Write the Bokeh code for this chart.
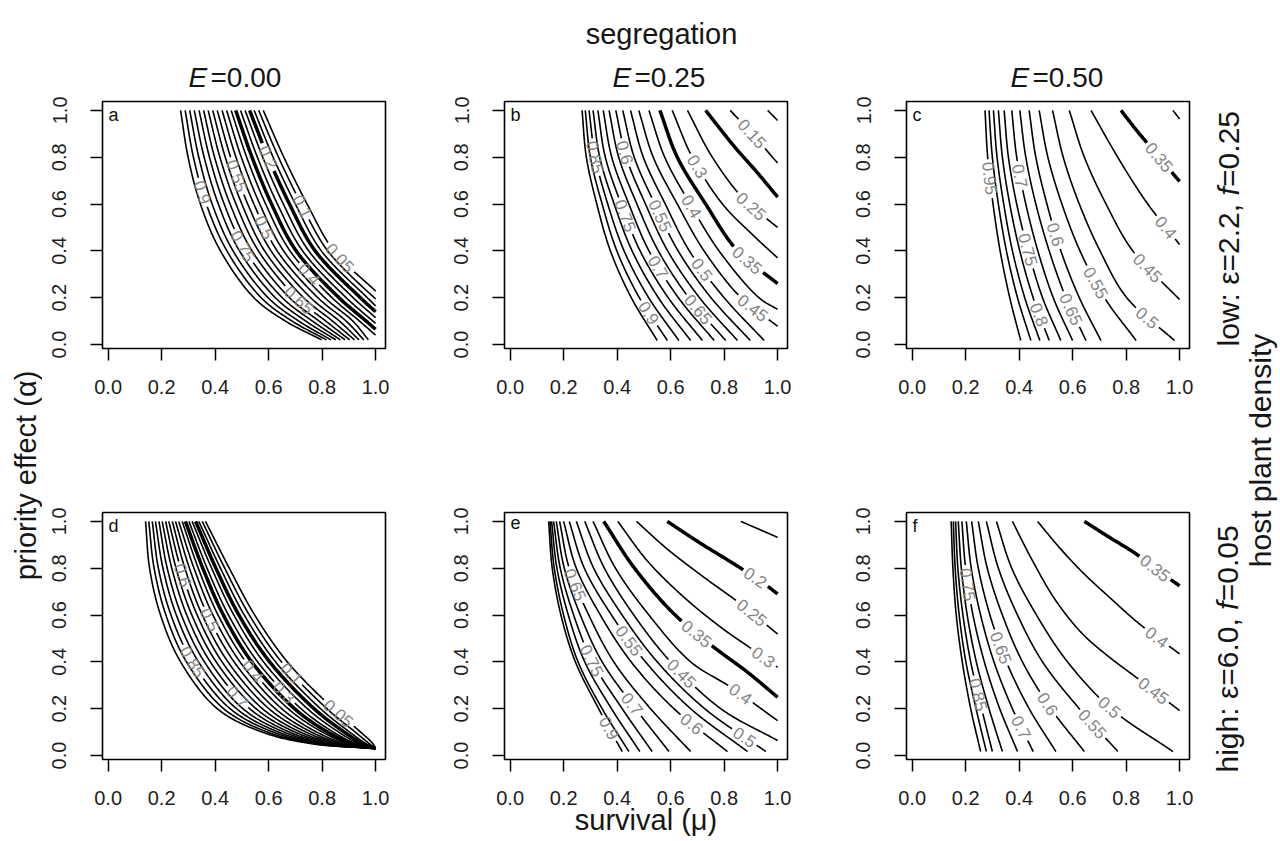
import math
from bokeh.plotting import figure
from bokeh.models import Range1d, FixedTicker, Label, PrintfTickFormatter
from bokeh.layouts import row, column
from bokeh.embed import file_html
from bokeh.resources import INLINE
from bokeh.core.properties import value

FONT = "Liberation Sans"

G6 = [1.0, 0.8, 0.6, 0.4, 0.2, 0.017]
G7 = [1.0, 0.8, 0.6, 0.4, 0.2, 0.1, 0.02]
G8 = [1.0, 0.8, 0.6, 0.4, 0.2, 0.1, 0.05, 0.03]

# ---------------- panel a  (E=0.00, low density) ----------------
A_LEVELS = [0.95, 0.90, 0.85, 0.80, 0.75, 0.70, 0.65, 0.60, 0.55, 0.50,
            0.45, 0.40, 0.35, 0.30, 0.25, 0.20, 0.15, 0.10, 0.05]
A_MU = [
    [0.271, 0.299, 0.345, 0.420, 0.545, 0.663, 0.798],
    [0.288, 0.319, 0.367, 0.444, 0.572, 0.688, 0.816],
    [0.305, 0.339, 0.389, 0.467, 0.598, 0.713, 0.833],
    [0.322, 0.359, 0.412, 0.491, 0.625, 0.739, 0.851],
    [0.340, 0.379, 0.434, 0.514, 0.651, 0.764, 0.868],
    [0.357, 0.398, 0.456, 0.538, 0.678, 0.789, 0.886],
    [0.374, 0.418, 0.478, 0.562, 0.704, 0.814, 0.903],
    [0.391, 0.438, 0.500, 0.585, 0.731, 0.839, 0.921],
    [0.408, 0.458, 0.522, 0.609, 0.757, 0.865, 0.938],
    [0.426, 0.478, 0.545, 0.632, 0.784, 0.890, 0.956],
    [0.443, 0.498, 0.567, 0.656, 0.810, 0.915, 0.973],
    [0.460, 0.518, 0.589, 0.680, 0.837, 0.940, 1.0],
    [0.477, 0.538, 0.611, 0.703, 0.863, 0.965, 1.0],
    [0.495, 0.558, 0.633, 0.727, 0.890, 0.990, 1.0],
    [0.512, 0.578, 0.655, 0.750, 0.916, 1.0],
    [0.529, 0.598, 0.678, 0.774, 0.943, 1.0],
    [0.546, 0.617, 0.700, 0.797, 0.969, 1.0],
    [0.563, 0.637, 0.722, 0.821, 0.995, 1.0],
    [0.580, 0.657, 0.744, 0.844, 1.0],
]
A_AL = [G7] * 11 + [
    [1.0, 0.8, 0.6, 0.4, 0.2, 0.1, 0.04],
    [1.0, 0.8, 0.6, 0.4, 0.2, 0.1, 0.065],
    [1.0, 0.8, 0.6, 0.4, 0.2, 0.1, 0.09],
    [1.0, 0.8, 0.6, 0.4, 0.2, 0.115],
    [1.0, 0.8, 0.6, 0.4, 0.2, 0.14],
    [1.0, 0.8, 0.6, 0.4, 0.2, 0.165],
    [1.0, 0.8, 0.6, 0.4, 0.2, 0.195],
    [1.0, 0.8, 0.6, 0.4, 0.228],
]
A_LABELS = [("0.9", 0.65), ("0.75", 0.42), ("0.55", 0.72), ("0.5", 0.50), ("0.65", 0.19),
            ("0.4", 0.30), ("0.2", 0.80), ("0.1", 0.59), ("0.05", 0.37)]

# ---------------- panel b  (E=0.25, low density) ----------------
B_LEVELS = [0.95, 0.90, 0.85, 0.80, 0.75, 0.70, 0.65, 0.60, 0.55, 0.50,
            0.45, 0.40, 0.35, 0.30, 0.25, 0.20, 0.15, 0.10]
B_MU = [
    [0.269, 0.285, 0.324, 0.375, 0.453, 0.550],
    [0.281, 0.300, 0.344, 0.399, 0.483, 0.588],
    [0.295, 0.318, 0.365, 0.426, 0.518, 0.631],
    [0.310, 0.335, 0.389, 0.456, 0.554, 0.675],
    [0.328, 0.356, 0.415, 0.486, 0.591, 0.719],
    [0.348, 0.380, 0.444, 0.519, 0.629, 0.763],
    [0.370, 0.406, 0.474, 0.554, 0.668, 0.806],
    [0.395, 0.434, 0.506, 0.589, 0.708, 0.850],
    [0.421, 0.464, 0.541, 0.628, 0.751, 0.898],
    [0.450, 0.498, 0.580, 0.670, 0.800, 0.950],
    [0.481, 0.535, 0.625, 0.725, 0.863, 1.0],
    [0.519, 0.578, 0.673, 0.781, 0.930, 1.0],
    [0.560, 0.625, 0.731, 0.850, 1.0],
    [0.606, 0.681, 0.794, 0.913, 1.0],
    [0.663, 0.756, 0.875, 1.0],
    [0.731, 0.838, 0.925, 1.0],
    [0.823, 0.913, 1.0],
    [0.963, 1.0],
]
B_AL = [G6] * 10 + [
    [1.0, 0.8, 0.6, 0.4, 0.2, 0.078],
    [1.0, 0.8, 0.6, 0.4, 0.2, 0.15],
    [1.0, 0.8, 0.6, 0.4, 0.26],
    [1.0, 0.8, 0.6, 0.462, 0.37],
    [1.0, 0.8, 0.619, 0.50],
    [1.0, 0.846, 0.733, 0.63],
    [1.0, 0.889, 0.775],
    [1.0, 0.957],
]
B_LABELS = [("0.15", 0.9), ("0.25", 0.59), ("0.3", 0.76), ("0.35", 0.36), ("0.4", 0.59),
            ("0.45", 0.156), ("0.5", 0.32), ("0.55", 0.55), ("0.6", 0.82), ("0.65", 0.15),
            ("0.7", 0.33), ("0.75", 0.55), ("0.85", 0.80), ("0.9", 0.135)]

# ---------------- panel c  (E=0.50, low density) ----------------
C_LEVELS = [0.95, 0.90, 0.85, 0.80, 0.75, 0.70, 0.65, 0.60, 0.55, 0.50,
            0.45, 0.40, 0.35, 0.30]
C_MU = [
    [0.2725, 0.2825, 0.3025, 0.329, 0.365, 0.406],
    [0.2875, 0.300, 0.3225, 0.3525, 0.394, 0.444],
    [0.304, 0.3175, 0.3425, 0.375, 0.421, 0.4775],
    [0.3225, 0.3375, 0.365, 0.4025, 0.4525, 0.5125],
    [0.344, 0.360, 0.391, 0.434, 0.4875, 0.556],
    [0.3725, 0.391, 0.425, 0.470, 0.5275, 0.600],
    [0.4025, 0.425, 0.4625, 0.5125, 0.575, 0.650],
    [0.4375, 0.4625, 0.504, 0.556, 0.625, 0.706],
    [0.475, 0.5075, 0.560, 0.6275, 0.719, 0.8375],
    [0.525, 0.565, 0.625, 0.7025, 0.8025, 0.981],
    [0.5875, 0.644, 0.725, 0.825, 1.0],
    [0.669, 0.7375, 0.8125, 0.8875, 1.0],
    [0.781, 0.8375, 0.900, 0.9625, 1.0],
    [0.975, 1.0],
]
C_AL = [G6] * 10 + [
    [1.0, 0.8, 0.6, 0.4, 0.192],
    [1.0, 0.861, 0.718, 0.590, 0.427],
    [1.0, 0.917, 0.832, 0.747, 0.697],
    [1.0, 0.963],
]
C_LABELS = [("0.95", 0.71), ("0.7", 0.72), ("0.75", 0.405), ("0.6", 0.47), ("0.8", 0.128),
            ("0.65", 0.15), ("0.55", 0.263), ("0.45", 0.327), ("0.5", 0.114), ("0.4", 0.50),
            ("0.35", 0.80)]

# ---------------- panel d  (E=0.00, high density) ----------------
D_LEVELS = A_LEVELS
D_MU = [
    [0.140, 0.155, 0.196, 0.271, 0.408, 0.576, 0.763, 1.0],
    [0.152, 0.172, 0.216, 0.293, 0.432, 0.596, 0.776, 1.0],
    [0.165, 0.188, 0.235, 0.315, 0.456, 0.617, 0.788, 1.0],
    [0.177, 0.205, 0.255, 0.338, 0.480, 0.637, 0.801, 1.0],
    [0.190, 0.221, 0.274, 0.360, 0.504, 0.658, 0.813, 1.0],
    [0.202, 0.238, 0.294, 0.382, 0.529, 0.678, 0.826, 1.0],
    [0.215, 0.254, 0.313, 0.404, 0.553, 0.699, 0.839, 1.0],
    [0.227, 0.271, 0.333, 0.426, 0.577, 0.719, 0.851, 1.0],
    [0.240, 0.287, 0.352, 0.448, 0.601, 0.740, 0.864, 1.0],
    [0.252, 0.304, 0.372, 0.471, 0.625, 0.760, 0.876, 1.0],
    [0.264, 0.321, 0.392, 0.493, 0.649, 0.780, 0.889, 1.0],
    [0.277, 0.337, 0.411, 0.515, 0.673, 0.801, 0.902, 1.0],
    [0.289, 0.354, 0.431, 0.537, 0.697, 0.821, 0.914, 1.0],
    [0.302, 0.370, 0.450, 0.559, 0.721, 0.842, 0.927, 1.0],
    [0.314, 0.387, 0.470, 0.581, 0.745, 0.862, 0.939, 1.0],
    [0.327, 0.403, 0.489, 0.604, 0.770, 0.883, 0.952, 1.0],
    [0.339, 0.420, 0.509, 0.626, 0.794, 0.903, 0.965, 1.0],
    [0.352, 0.436, 0.528, 0.648, 0.818, 0.924, 0.977, 1.0],
    [0.364, 0.453, 0.548, 0.670, 0.842, 0.944, 0.990, 1.0],
]
D_AL = [G8] * 19
D_LABELS = [("0.85", 0.40), ("0.7", 0.25), ("0.6", 0.77), ("0.5", 0.58), ("0.4", 0.36),
            ("0.3", 0.27), ("0.1", 0.35), ("0.05", 0.18)]

# ---------------- panel e  (E=0.25, high density) ----------------
E_LEVELS = [0.90, 0.85, 0.80, 0.75, 0.70, 0.65, 0.60, 0.55, 0.50,
            0.45, 0.40, 0.35, 0.30, 0.25, 0.20, 0.15]
E_MU = [
    [0.144, 0.1575, 0.190, 0.244, 0.331, 0.419],
    [0.149, 0.165, 0.200, 0.254, 0.344, 0.444],
    [0.155, 0.175, 0.2175, 0.279, 0.379, 0.485],
    [0.1625, 0.1875, 0.2375, 0.3075, 0.419, 0.531],
    [0.1725, 0.2025, 0.2625, 0.344, 0.469, 0.594],
    [0.185, 0.221, 0.294, 0.3875, 0.525, 0.675],
    [0.200, 0.2475, 0.3375, 0.4525, 0.6125, 0.8125],
    [0.221, 0.2775, 0.379, 0.506, 0.675, 0.8875],
    [0.2475, 0.3125, 0.419, 0.550, 0.7275, 0.956],
    [0.279, 0.3525, 0.4625, 0.600, 0.7875, 1.0],
    [0.310, 0.394, 0.519, 0.675, 0.825, 1.0],
    [0.350, 0.4625, 0.6125, 0.7625, 0.8875, 1.0],
    [0.4025, 0.5125, 0.650, 0.7875, 0.9125, 1.0],
    [0.4725, 0.5875, 0.725, 0.8625, 1.0],
    [0.5875, 0.7125, 0.8375, 0.9375, 1.0],
    [0.8625, 1.0],
]
E_AL = [G6] * 9 + [
    [1.0, 0.8, 0.6, 0.4, 0.2, 0.064],
    [1.0, 0.8, 0.6, 0.4, 0.292, 0.149],
    [1.0, 0.804, 0.605, 0.462, 0.356, 0.249],
    [1.0, 0.832, 0.676, 0.548, 0.448, 0.377],
    [1.0, 0.882, 0.761, 0.647, 0.519],
    [1.0, 0.906, 0.818, 0.744, 0.69],
    [1.0, 0.932],
]
E_LABELS = [("0.65", 0.73), ("0.75", 0.405), ("0.9", 0.117), ("0.7", 0.22), ("0.55", 0.49),
            ("0.6", 0.135), ("0.45", 0.35), ("0.5", 0.078), ("0.4", 0.263), ("0.35", 0.52),
            ("0.3", 0.42), ("0.25", 0.61), ("0.2", 0.76)]

# ---------------- panel f  (E=0.50, high density) ----------------
F_LEVELS = [0.95, 0.90, 0.85, 0.80, 0.75, 0.70, 0.65, 0.60, 0.55, 0.50,
            0.45, 0.40, 0.35]
F_MU = [
    [0.146, 0.1525, 0.165, 0.1875, 0.219, 0.256],
    [0.154, 0.161, 0.176, 0.201, 0.239, 0.2775],
    [0.1625, 0.171, 0.190, 0.219, 0.260, 0.300],
    [0.1725, 0.184, 0.206, 0.240, 0.2875, 0.3375],
    [0.186, 0.200, 0.2275, 0.270, 0.3275, 0.394],
    [0.2025, 0.221, 0.256, 0.306, 0.375, 0.4525],
    [0.2225, 0.2475, 0.291, 0.3525, 0.4375, 0.5375],
    [0.2475, 0.281, 0.3375, 0.4125, 0.519, 0.644],
    [0.2775, 0.3225, 0.394, 0.4875, 0.625, 0.769],
    [0.315, 0.3725, 0.465, 0.581, 0.744, 0.975],
    [0.375, 0.450, 0.5375, 0.6375, 0.7375, 0.8375, 1.0],
    [0.469, 0.550, 0.6375, 0.7375, 0.850, 1.0],
    [0.644, 0.7375, 0.8375, 0.9375, 1.0],
]
F_AL = [G6] * 10 + [
    [1.0, 0.832, 0.661, 0.519, 0.42, 0.334, 0.192],
    [1.0, 0.889, 0.782, 0.676, 0.562, 0.434],
    [1.0, 0.932, 0.861, 0.775, 0.725],
]
F_LABELS = [("0.75", 0.73), ("0.85", 0.26), ("0.65", 0.46), ("0.7", 0.12), ("0.6", 0.22),
            ("0.55", 0.135), ("0.5", 0.206), ("0.45", 0.277), ("0.4", 0.505), ("0.35", 0.80)]

THICK_LEVELS = [0.20, 0.35]
TICKS = [0.0, 0.2, 0.4, 0.6, 0.8, 1.0]
COL_TITLES = ["0.00", "0.25", "0.50"]

# ---------------- geometry (pixels) ----------------
XR = (-0.021, 1.037)
YR = (-0.017, 1.038)
FW, FH = 283, 247
SX = FW / (XR[1] - XR[0])
SY = FH / (YR[1] - YR[0])
LAB_FS = 17
WL = 42                     # left strip (y title)
BL, BR, BR3 = 60, 59, 10    # panel side borders
HEAD = 92                   # header strip (titles)
T1, B1, T2, B2 = 9, 60, 104, 82
WR = 81                     # right strip (row titles)
TOTAL_H = HEAD + T1 + FH + B1 + T2 + FH + B2
TXT = "#161616"


def text_len(s, fs):
    return sum(0.278 if ch in ".," else 0.556 for ch in s) * fs


def to_px(m, a):
    return ((m - XR[0]) * SX, (a - YR[0]) * SY)


def to_data(u, v):
    return (u / SX + XR[0], v / SY + YR[0])


def smooth_path(mu, al):
    """Centripetal Catmull-Rom drawing path through the read points (pixel space)."""
    P = [to_px(m, a) for m, a in zip(mu, al)]
    if len(P) == 2:
        (u0, v0), (u1, v1) = P
        n = max(2, int(math.hypot(u1 - u0, v1 - v0)))
        return [(u0 + (u1 - u0) * j / n, v0 + (v1 - v0) * j / n) for j in range(n + 1)]
    first = (2 * P[0][0] - P[1][0], 2 * P[0][1] - P[1][1])
    last = (2 * P[-1][0] - P[-2][0], 2 * P[-1][1] - P[-2][1])
    Q = [first] + P + [last]
    out = []
    for k in range(len(P) - 1):
        p0, p1, p2, p3 = Q[k], Q[k + 1], Q[k + 2], Q[k + 3]

        def d(a, b):
            return max(1e-6, math.hypot(b[0] - a[0], b[1] - a[1]) ** 0.5)
        t0 = 0.0
        t1 = t0 + d(p0, p1)
        t2 = t1 + d(p1, p2)
        t3 = t2 + d(p2, p3)
        n = max(2, int(math.hypot(p2[0] - p1[0], p2[1] - p1[1])))
        for j in range(n):
            t = t1 + (t2 - t1) * j / n

            def lerp(a, b, ta, tb):
                wa = (tb - t) / (tb - ta)
                wb = (t - ta) / (tb - ta)
                return (a[0] * wa + b[0] * wb, a[1] * wa + b[1] * wb)
            A1 = lerp(p0, p1, t0, t1)
            A2 = lerp(p1, p2, t1, t2)
            A3 = lerp(p2, p3, t2, t3)
            B1_ = lerp(A1, A2, t0, t2)
            B2_ = lerp(A2, A3, t1, t3)
            out.append(lerp(B1_, B2_, t1, t2))
    out.append(P[-1])
    return out


def style_axes(p):
    for ax in (p.xaxis[0], p.yaxis[0]):
        ax.ticker = FixedTicker(ticks=TICKS)
        ax.formatter = PrintfTickFormatter(format="%.1f")
        ax.axis_line_color = None
        ax.major_tick_out = 12
        ax.major_tick_in = 0
        ax.major_tick_line_width = 1.5
        ax.major_tick_line_color = "black"
        ax.minor_tick_line_color = None
        ax.major_label_text_font = FONT
        ax.major_label_text_font_size = "20px"
        ax.major_label_text_color = "#1e1e1e"
    p.xaxis.major_label_standoff = 19
    p.yaxis.major_label_standoff = 24
    p.yaxis.major_label_orientation = "vertical"


def make_panel(levels, mus, als, labels, letter, br, bt, bb):
    p = figure(width=BL + FW + br, height=bt + FH + bb,
               x_range=Range1d(*XR), y_range=Range1d(*YR),
               output_backend="svg", toolbar_location=None,
               min_border_left=BL, min_border_right=br,
               min_border_top=bt, min_border_bottom=bb)
    p.grid.visible = False
    p.outline_line_color = "black"
    p.outline_line_width = 1.6
    p.background_fill_color = "white"
    p.border_fill_color = "white"
    style_axes(p)

    paths = [smooth_path(mus[i], als[i]) for i in range(len(levels))]

    # contour labels: sit on their own line, rotated along it
    cuts = {}
    lx, ly, la, lt = [], [], [], []
    for txt, a in labels:
        i = levels.index(float(txt))
        path = paths[i]
        v_target = (a - YR[0]) * SY
        hit = None
        for j in range(len(path) - 1):
            v0, v1 = path[j][1], path[j + 1][1]
            if v0 != v1 and min(v0, v1) <= v_target <= max(v0, v1):
                hit = j
                break
        if hit is None:
            continue
        j = hit
        v0, v1 = path[j][1], path[j + 1][1]
        t = (v_target - v0) / (v1 - v0)
        cu = path[j][0] + t * (path[j + 1][0] - path[j][0])
        cv = v_target
        ja, jb = max(0, j - 4), min(len(path) - 1, j + 5)
        dx = path[jb][0] - path[ja][0]
        dy = path[jb][1] - path[ja][1]
        ang = math.atan2(dy, dx)
        if ang > math.pi / 2:
            ang -= math.pi
        if ang < -math.pi / 2:
            ang += math.pi
        m, aa = to_data(cu, cv)
        lx.append(m); ly.append(aa); la.append(ang); lt.append(txt)
        cuts.setdefault(i, []).append((cu, cv, ang, text_len(txt, LAB_FS) / 2 + 2.5))

    thin_x, thin_y, thick_x, thick_y = [], [], [], []
    for i, lev in enumerate(levels):
        segs, cur = [], []
        for (u, v) in paths[i]:
            hidden = False
            for (cu, cv, ang, hl) in cuts.get(i, []):
                du, dv = u - cu, v - cv
                along = du * math.cos(ang) + dv * math.sin(ang)
                perp = -du * math.sin(ang) + dv * math.cos(ang)
                if abs(along) < hl and abs(perp) < 10:
                    hidden = True
            if hidden:
                if len(cur) > 1:
                    segs.append(cur)
                cur = []
            else:
                cur.append(to_data(u, v))
        if len(cur) > 1:
            segs.append(cur)
        thick = any(abs(lev - t) < 1e-9 for t in THICK_LEVELS)
        for s in segs:
            (thick_x if thick else thin_x).append([q[0] for q in s])
            (thick_y if thick else thin_y).append([q[1] for q in s])

    p.multi_line(thin_x, thin_y, line_color="black", line_width=1.6, line_join="round")
    if thick_x:
        p.multi_line(thick_x, thick_y, line_color="black", line_width=3.5, line_join="round")
    p.text(x=lx, y=ly, text=lt, angle=la, text_align="center", text_baseline="middle",
           text_font=value(FONT), text_font_size=f"{LAB_FS}px", text_color="#858585")

    p.add_layout(Label(x=6, y=FH - 3, x_units="screen", y_units="screen", text=letter,
                       text_baseline="top", text_align="left", text_font=FONT,
                       text_font_size="18px", text_color="#111111"))
    return p


pa = make_panel(A_LEVELS, A_MU, A_AL, A_LABELS, "a", BR, T1, B1)
pb = make_panel(B_LEVELS, B_MU, B_AL, B_LABELS, "b", BR, T1, B1)
pc = make_panel(C_LEVELS, C_MU, C_AL, C_LABELS, "c", BR3, T1, B1)
pd = make_panel(D_LEVELS, D_MU, D_AL, D_LABELS, "d", BR, T2, B2)
pe = make_panel(E_LEVELS, E_MU, E_AL, E_LABELS, "e", BR, T2, B2)
pf = make_panel(F_LEVELS, F_MU, F_AL, F_LABELS, "f", BR3, T2, B2)

# x-axis title under the middle bottom panel
pe.xaxis.axis_label = "survival (\u03bc)"
pe.xaxis.axis_label_text_font = FONT
pe.xaxis.axis_label_text_font_size = "29px"
pe.xaxis.axis_label_text_font_style = "normal"
pe.xaxis.axis_label_text_color = TXT
pe.xaxis.axis_label_standoff = -4


def strip(w, h):
    p = figure(width=w, height=h, x_range=Range1d(0, 1), y_range=Range1d(0, 1),
               output_backend="svg", toolbar_location=None,
               x_axis_location=None, y_axis_location=None, min_border=0)
    p.grid.visible = False
    p.outline_line_color = None
    p.border_fill_color = "white"
    p.background_fill_color = "white"
    return p


# header: "segregation" and the E column titles (italic E)
GRID_W = (BL + FW + BR) * 2 + (BL + FW + BR3)
head = strip(GRID_W, HEAD)
TITLE_X = [146, 570, 968]
for t, x0 in zip(COL_TITLES, TITLE_X):
    head.add_layout(Label(x=x0, y=15, x_units="screen", y_units="screen", text="E",
                          text_font=FONT, text_font_style="italic", text_font_size="28px",
                          text_baseline="alphabetic", text_align="left", text_color=TXT))
    head.add_layout(Label(x=x0 + 22, y=15, x_units="screen", y_units="screen", text="=" + t,
                          text_font=FONT, text_font_size="28px",
                          text_baseline="alphabetic", text_align="left", text_color=TXT))
head.add_layout(Label(x=619, y=59, x_units="screen", y_units="screen", text="segregation",
                      text_font=FONT, text_font_size="29px", text_baseline="alphabetic",
                      text_align="center", text_color=TXT))

left = strip(WL, TOTAL_H)
left.add_layout(Label(x=25.5, y=TOTAL_H - 475, x_units="screen", y_units="screen",
                      text="priority effect (\u03b1)", angle=math.pi / 2,
                      text_font=FONT, text_font_size="29px", text_align="center",
                      text_baseline="middle", text_color=TXT))

right = strip(WR, TOTAL_H)
PART_W = {"low: \u03b5=2.2, ": 5.03, "high: \u03b5=6.0, ": 5.42, "f": 0.29}


def vertical_parts(p, x, y0, parts, fs):
    y = y0
    for txt, italic in parts:
        p.add_layout(Label(x=x, y=y, x_units="screen", y_units="screen", text=txt,
                           angle=math.pi / 2, text_font=FONT, text_font_size=f"{fs}px",
                           text_font_style="italic" if italic else "normal",
                           text_align="left", text_baseline="middle", text_color=TXT))
        y += PART_W.get(txt, 2.53) * fs


vertical_parts(right, 29, TOTAL_H - 346, [("low: \u03b5=2.2, ", False), ("f", True), ("=0.25", False)], 30)
vertical_parts(right, 28, TOTAL_H - 772, [("high: \u03b5=6.0, ", False), ("f", True), ("=0.05", False)], 30)
right.add_layout(Label(x=61, y=TOTAL_H - 450, x_units="screen", y_units="screen",
                       text="host plant density", angle=math.pi / 2,
                       text_font=FONT, text_font_size="30px", text_align="center",
                       text_baseline="middle", text_color=TXT))

grid = column(head, row(pa, pb, pc), row(pd, pe, pf))
layout = row(left, grid, right)

open("out.html", "w").write(file_html(layout, INLINE))
